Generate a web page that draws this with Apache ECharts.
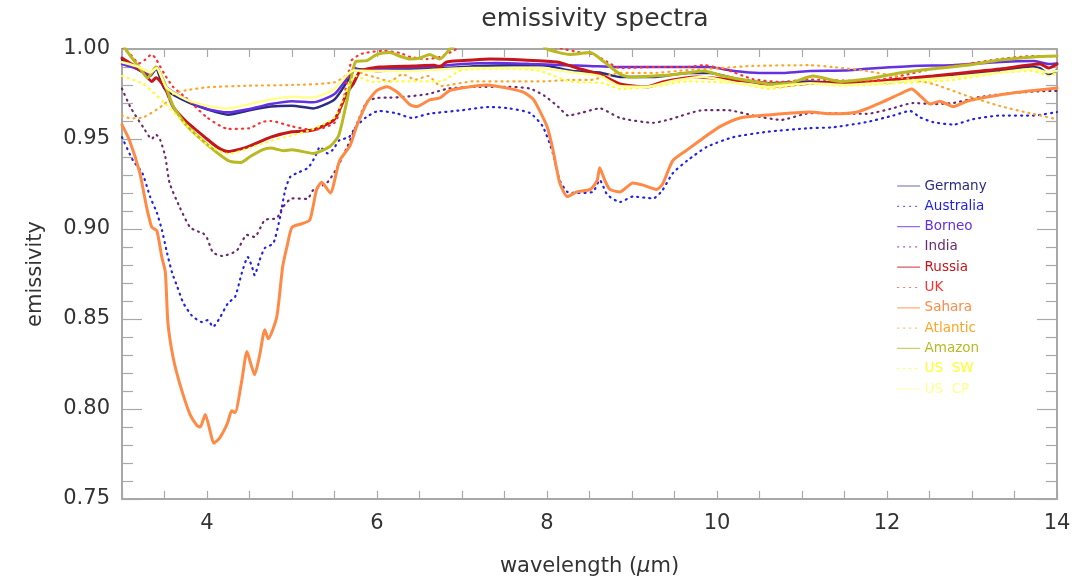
<!DOCTYPE html>
<html>
<head>
<meta charset="utf-8">
<title>emissivity spectra</title>
<script src="https://cdn.jsdelivr.net/npm/echarts@6/dist/echarts.min.js"></script>
<style>
  html, body { margin: 0; padding: 0; background: #fff; }
  #emissivityChart { width: 1078px; height: 583px; }
</style>
</head>
<body>
<div id="emissivityChart"></div>
<script>
// data: [wavelength (um), emissivity]
var germany = [[3.0,0.994],[3.1,0.991],[3.25,0.987],[3.33,0.985],[3.4,0.989],[3.5,0.978],[3.75,0.971],[4.0,0.9665],[4.25,0.9635],[4.5,0.966],[4.75,0.968],[5.0,0.9685],[5.25,0.967],[5.5,0.972],[5.65,0.982],[5.75,0.989],[5.85,0.9885],[6.0,0.9878],[6.4,0.989],[6.8,0.9894],[7.2,0.9906],[7.6,0.991],[7.95,0.991],[8.3,0.9878],[8.62,0.987],[8.86,0.9844],[9.25,0.9844],[9.65,0.9867],[9.92,0.9867],[10.24,0.9833],[10.62,0.981],[11.09,0.982],[11.5,0.981],[12.15,0.982],[12.54,0.9844],[12.94,0.986],[13.33,0.9878],[13.65,0.990],[13.8,0.9894],[13.9,0.986],[14.0,0.9883]];
var australia = [[3.0,0.951],[3.13,0.938],[3.24,0.931],[3.33,0.918],[3.41,0.909],[3.47,0.8994],[3.53,0.8867],[3.59,0.8756],[3.65,0.868],[3.72,0.859],[3.82,0.852],[3.94,0.8483],[4.01,0.8494],[4.07,0.8456],[4.15,0.8506],[4.25,0.859],[4.33,0.8622],[4.41,0.8756],[4.48,0.8844],[4.53,0.879],[4.56,0.8744],[4.62,0.8828],[4.68,0.8894],[4.78,0.892],[4.86,0.9067],[4.92,0.9217],[4.98,0.929],[5.09,0.9317],[5.19,0.934],[5.27,0.940],[5.33,0.9456],[5.42,0.942],[5.48,0.944],[5.56,0.9494],[5.67,0.951],[5.75,0.9567],[5.87,0.962],[6.02,0.9656],[6.22,0.9644],[6.41,0.9617],[6.61,0.964],[7.0,0.966],[7.32,0.9678],[7.56,0.967],[7.8,0.9644],[7.95,0.957],[8.07,0.942],[8.15,0.927],[8.24,0.9206],[8.35,0.920],[8.54,0.9206],[8.62,0.9272],[8.71,0.919],[8.86,0.915],[9.01,0.918],[9.25,0.917],[9.35,0.921],[9.48,0.931],[9.65,0.938],[9.88,0.9456],[10.19,0.951],[10.59,0.954],[11.09,0.956],[11.36,0.9565],[11.76,0.9594],[12.07,0.963],[12.27,0.9656],[12.39,0.962],[12.54,0.9594],[12.78,0.958],[13.01,0.961],[13.33,0.963],[13.72,0.963],[14.0,0.965]];
var borneo = [[3.0,0.9917],[3.18,0.989],[3.33,0.9857],[3.41,0.9898],[3.48,0.982],[3.52,0.9787],[3.75,0.972],[4.0,0.9667],[4.25,0.9648],[4.5,0.9667],[4.75,0.9694],[5.0,0.971],[5.25,0.9704],[5.5,0.975],[5.65,0.984],[5.74,0.9894],[5.8,0.9878],[5.95,0.9885],[6.2,0.9894],[6.6,0.990],[7.0,0.9917],[7.4,0.9922],[7.8,0.9917],[8.2,0.991],[8.5,0.9906],[8.8,0.990],[9.5,0.990],[9.9,0.990],[10.2,0.9878],[10.5,0.9867],[10.8,0.9867],[11.1,0.9878],[11.5,0.988],[11.76,0.989],[12.31,0.9906],[12.75,0.991],[13.33,0.9928],[13.72,0.9933],[13.9,0.9917],[14.0,0.992]];
var india = [[3.0,0.978],[3.1,0.9676],[3.25,0.9565],[3.35,0.950],[3.4,0.9525],[3.45,0.9494],[3.51,0.940],[3.56,0.9256],[3.68,0.912],[3.8,0.901],[3.9,0.8985],[3.95,0.8978],[4.0,0.895],[4.07,0.887],[4.18,0.885],[4.35,0.888],[4.47,0.8967],[4.56,0.8956],[4.68,0.905],[4.82,0.906],[4.89,0.912],[5.0,0.917],[5.18,0.9167],[5.25,0.9217],[5.41,0.9256],[5.53,0.934],[5.65,0.9456],[5.76,0.958],[5.88,0.9706],[6.0,0.9728],[6.15,0.973],[6.3,0.9733],[6.6,0.975],[6.84,0.978],[7.15,0.979],[7.55,0.979],[7.8,0.978],[7.97,0.974],[8.13,0.968],[8.25,0.963],[8.4,0.9645],[8.62,0.967],[8.86,0.9617],[9.25,0.959],[9.45,0.961],[9.84,0.966],[10.13,0.966],[10.43,0.963],[10.75,0.9606],[11.1,0.9644],[11.76,0.964],[12.04,0.9667],[12.31,0.970],[12.54,0.9694],[12.78,0.970],[13.09,0.9733],[13.48,0.9756],[13.95,0.9767],[14.0,0.9767]];
var russia = [[3.0,0.995],[3.1,0.992],[3.25,0.987],[3.35,0.982],[3.4,0.984],[3.5,0.979],[3.6,0.968],[3.75,0.960],[4.0,0.950],[4.12,0.9455],[4.25,0.943],[4.4,0.9445],[4.5,0.946],[4.75,0.951],[5.0,0.954],[5.25,0.955],[5.5,0.961],[5.65,0.976],[5.72,0.9806],[5.8,0.9878],[5.88,0.9889],[6.03,0.990],[6.43,0.9906],[6.67,0.991],[6.74,0.990],[6.82,0.9928],[7.13,0.9939],[7.33,0.9944],[7.72,0.9939],[8.12,0.9928],[8.39,0.9889],[8.62,0.986],[8.86,0.9806],[9.18,0.979],[9.36,0.9817],[9.76,0.9844],[10.07,0.9833],[10.39,0.982],[10.71,0.9794],[11.09,0.981],[11.76,0.9817],[12.15,0.9833],[12.54,0.985],[12.94,0.987],[13.33,0.9889],[13.65,0.991],[13.8,0.9917],[13.9,0.9894],[14.0,0.9917]];
var uk = [[3.0,1.001],[3.1,0.997],[3.2,0.992],[3.27,0.994],[3.35,0.997],[3.4,0.9944],[3.5,0.986],[3.6,0.979],[3.75,0.973],[4.0,0.962],[4.25,0.9556],[4.5,0.956],[4.65,0.9595],[4.75,0.960],[5.0,0.957],[5.25,0.955],[5.5,0.959],[5.6,0.971],[5.7,0.9935],[5.8,0.997],[5.88,0.998],[6.07,0.999],[6.27,0.9978],[6.39,0.9956],[6.59,0.9944],[6.74,0.9956],[6.9,0.999],[7.0,1.002],[7.5,1.004],[7.9,1.003],[8.1,1.001],[8.4,0.998],[8.55,0.997],[8.71,0.9928],[8.86,0.9894],[9.25,0.990],[9.65,0.990],[9.84,0.991],[10.12,0.9883],[10.42,0.9833],[10.74,0.9817],[11.09,0.983],[11.76,0.982],[12.15,0.985],[12.54,0.989],[12.94,0.9917],[13.33,0.9944],[13.72,0.9961],[14.0,0.996]];
var sahara = [[3.0,0.958],[3.09,0.949],[3.21,0.931],[3.29,0.912],[3.35,0.901],[3.41,0.899],[3.47,0.884],[3.51,0.876],[3.54,0.848],[3.6,0.829],[3.68,0.814],[3.8,0.797],[3.88,0.791],[3.92,0.790],[3.98,0.797],[4.04,0.787],[4.08,0.781],[4.15,0.784],[4.24,0.792],[4.29,0.799],[4.33,0.798],[4.41,0.816],[4.47,0.832],[4.51,0.826],[4.56,0.819],[4.62,0.830],[4.68,0.844],[4.72,0.839],[4.82,0.851],[4.89,0.879],[4.94,0.890],[5.0,0.901],[5.12,0.903],[5.21,0.905],[5.29,0.922],[5.35,0.926],[5.45,0.920],[5.56,0.938],[5.68,0.946],[5.76,0.957],[5.88,0.970],[6.0,0.977],[6.12,0.979],[6.24,0.976],[6.39,0.969],[6.47,0.968],[6.62,0.9717],[6.74,0.9728],[6.86,0.977],[7.09,0.979],[7.29,0.980],[7.56,0.978],[7.72,0.976],[7.84,0.972],[8.0,0.957],[8.07,0.944],[8.15,0.9256],[8.24,0.918],[8.35,0.9206],[8.51,0.922],[8.59,0.927],[8.62,0.934],[8.68,0.927],[8.74,0.922],[8.86,0.9206],[9.01,0.9256],[9.13,0.9244],[9.29,0.922],[9.36,0.925],[9.48,0.938],[9.65,0.944],[9.84,0.9506],[10.04,0.957],[10.27,0.9617],[10.59,0.9633],[11.09,0.965],[11.36,0.964],[11.65,0.965],[11.95,0.9706],[12.15,0.975],[12.29,0.9778],[12.39,0.974],[12.51,0.9694],[12.62,0.971],[12.78,0.968],[12.94,0.971],[13.18,0.9733],[13.48,0.9756],[14.0,0.9783]];
var atlantic = [[3.0,0.963],[3.1,0.9615],[3.25,0.962],[3.5,0.9694],[3.6,0.975],[3.75,0.977],[4.0,0.9787],[4.5,0.9796],[5.0,0.980],[5.5,0.9815],[5.75,0.988],[5.85,0.986],[6.0,0.984],[6.15,0.982],[6.3,0.986],[6.45,0.983],[6.6,0.985],[6.75,0.9794],[7.13,0.982],[7.53,0.982],[7.92,0.982],[8.3,0.9828],[8.5,0.9828],[8.86,0.9867],[9.25,0.9867],[9.65,0.9883],[10.04,0.9894],[10.42,0.9906],[11.09,0.991],[11.36,0.990],[11.76,0.9878],[12.15,0.9844],[12.54,0.9806],[12.94,0.974],[13.33,0.9683],[13.72,0.9639],[14.0,0.961]];
var amazon = [[3.0,1.003],[3.1,0.996],[3.2,0.990],[3.3,0.984],[3.4,0.990],[3.5,0.981],[3.6,0.9685],[3.75,0.958],[4.0,0.947],[4.25,0.938],[4.4,0.937],[4.5,0.940],[4.65,0.944],[4.75,0.945],[4.9,0.9435],[5.0,0.944],[5.25,0.942],[5.45,0.946],[5.55,0.952],[5.65,0.972],[5.75,0.993],[5.88,0.9935],[6.0,0.997],[6.15,0.998],[6.27,0.996],[6.39,0.9944],[6.51,0.995],[6.62,0.997],[6.74,0.9944],[6.86,1.0],[7.0,1.004],[7.5,1.006],[7.9,1.004],[8.0,1.0],[8.27,0.997],[8.51,0.998],[8.66,0.9933],[8.86,0.986],[8.98,0.9844],[9.25,0.985],[9.53,0.986],[9.84,0.9878],[10.07,0.985],[10.39,0.9822],[10.62,0.9806],[10.86,0.981],[11.13,0.985],[11.45,0.982],[11.76,0.9833],[12.15,0.9867],[12.54,0.989],[12.94,0.991],[13.33,0.9939],[13.72,0.9956],[14.0,0.9961]];
var usSW = [[3.0,0.985],[3.25,0.9806],[3.5,0.970],[3.75,0.958],[4.0,0.947],[4.25,0.9417],[4.5,0.945],[4.75,0.949],[5.0,0.952],[5.25,0.9556],[5.5,0.962],[5.75,0.985],[5.95,0.9817],[6.3,0.982],[6.74,0.982],[7.0,0.9883],[7.5,0.989],[7.9,0.988],[8.27,0.982],[8.66,0.981],[8.86,0.9778],[9.25,0.979],[9.65,0.982],[9.92,0.9817],[10.24,0.981],[10.62,0.9778],[11.09,0.9806],[11.5,0.9795],[12.15,0.981],[12.78,0.9828],[13.33,0.9867],[13.72,0.9878],[13.9,0.985],[14.0,0.987]];
var usCP = [[3.0,0.9926],[3.2,0.990],[3.33,0.987],[3.41,0.9895],[3.52,0.9787],[3.75,0.972],[4.0,0.9685],[4.25,0.967],[4.5,0.9694],[4.75,0.972],[5.0,0.9735],[5.25,0.973],[5.5,0.9778],[5.72,0.988],[5.95,0.9878],[6.35,0.9878],[7.13,0.9894],[7.9,0.9894],[8.31,0.987],[8.62,0.985],[8.86,0.9794],[9.18,0.979],[9.45,0.982],[9.84,0.9844],[10.24,0.981],[10.62,0.979],[11.09,0.981],[11.5,0.980],[12.15,0.982],[12.78,0.9844],[13.33,0.987],[13.72,0.989],[13.9,0.987],[14.0,0.988]];

var names = ['Germany', 'Australia', 'Borneo', 'India', 'Russia', 'UK', 'Sahara', 'Atlantic', 'Amazon', 'US  SW', 'US  CP'];
var values = [germany, australia, borneo, india, russia, uk, sahara, atlantic, amazon, usSW, usCP];
var colors = ['#2b2b82', '#2121e8', '#6431e2', '#6b2a6e', '#c4161c', '#ff3030', '#ff8a45', '#ffa424', '#b9b922', '#ffff26', '#ffff90'];
var dotted = [false, true, false, true, false, true, false, true, false, true, false];
var widths = [2.5, 2.2, 2.5, 2.2, 3, 2.2, 3, 2.2, 3, 2.2, 2.5];

var font = 'DejaVu Sans';
var grey = '#a8a8a8';

var series = names.map(function (n, i) {
    return {
        name: n,
        type: 'line',
        data: values[i],
        showSymbol: false,
        symbol: 'none',
        smooth: 0.2,
        clip: true,
        lineStyle: {
            color: colors[i],
            width: widths[i],
            type: dotted[i] ? [1, 5] : 'solid',
            cap: 'round'
        },
        itemStyle: { color: colors[i] },
        z: 2 + i
    };
});

var legendData = names.map(function (n, i) {
    return { name: n, textStyle: { color: colors[i] } };
});

var option = {
    animation: false,
    backgroundColor: '#ffffff',
    title: {
        text: 'emissivity spectra',
        left: 590,
        top: 2,
        textAlign: 'center',
        textStyle: { fontFamily: font, fontWeight: 'normal', fontSize: 25, color: '#333' }
    },
    legend: {
        orient: 'vertical',
        left: 892,
        top: 174,
        itemWidth: 22,
        itemHeight: 10,
        itemGap: 6.3,
        selectedMode: false,
        data: legendData,
        // hide the marker, keep only the line sample
        itemStyle: { opacity: 0, color: 'transparent', borderWidth: 0 },
        lineStyle: { width: 1.2, opacity: 0.7 },
        textStyle: { fontFamily: font, fontSize: 13.5, lineHeight: 14 }
    },
    grid: { left: 122, right: 21, top: 49, bottom: 84 },
    xAxis: [{
        type: 'value',
        min: 3,
        max: 14,
        interval: 0.5,
        name: 'wavelength ({mu|μ}m)',
        nameLocation: 'middle',
        nameGap: 57,
        nameTextStyle: {
            fontFamily: font, fontSize: 21, color: '#333',
            rich: { mu: { fontFamily: font, fontSize: 21, fontStyle: 'italic', color: '#333' } }
        },
        axisLine: { lineStyle: { color: grey, width: 2 } },
        axisTick: { inside: true, length: 8, lineStyle: { color: grey, width: 1.2 } },
        axisLabel: {
            margin: 14,
            fontFamily: font, fontSize: 21, color: '#333',
            formatter: function (v) { return (v % 2 === 0 && v > 3) ? String(v) : ''; }
        },
        splitLine: { show: false }
    }, {
        type: 'value',
        position: 'top',
        min: 3,
        max: 14,
        interval: 0.5,
        axisLine: { lineStyle: { color: grey, width: 2 } },
        axisTick: { inside: true, length: 8, lineStyle: { color: grey, width: 1.2 } },
        axisLabel: { show: false },
        splitLine: { show: false }
    }],
    yAxis: [{
        type: 'value',
        min: 0.75,
        max: 1.0,
        interval: 0.05,
        name: 'emissivity',
        nameLocation: 'middle',
        nameGap: 76,
        nameTextStyle: { fontFamily: font, fontSize: 21, color: '#333' },
        axisLine: { show: true, lineStyle: { color: grey, width: 2 } },
        axisTick: { inside: true, length: 20, lineStyle: { color: grey, width: 1.2 } },
        minorTick: { show: true, splitNumber: 5, length: 11, lineStyle: { color: grey, width: 1.2 } },
        axisLabel: {
            margin: 12,
            fontFamily: font, fontSize: 21, color: '#333',
            formatter: function (v) { return v.toFixed(2); }
        },
        splitLine: { show: false }
    }, {
        type: 'value',
        position: 'right',
        min: 0.75,
        max: 1.0,
        interval: 0.05,
        axisLine: { show: true, lineStyle: { color: grey, width: 2 } },
        axisTick: { inside: true, length: 20, lineStyle: { color: grey, width: 1.2 } },
        minorTick: { show: true, splitNumber: 5, length: 11, lineStyle: { color: grey, width: 1.2 } },
        axisLabel: { show: false },
        splitLine: { show: false }
    }],
    series: series
};

var emissivityChart = echarts.init(document.getElementById('emissivityChart'));
emissivityChart.setOption(option);

window.addEventListener('resize', function () {
    emissivityChart.resize();
});
</script>
</body>
</html>
